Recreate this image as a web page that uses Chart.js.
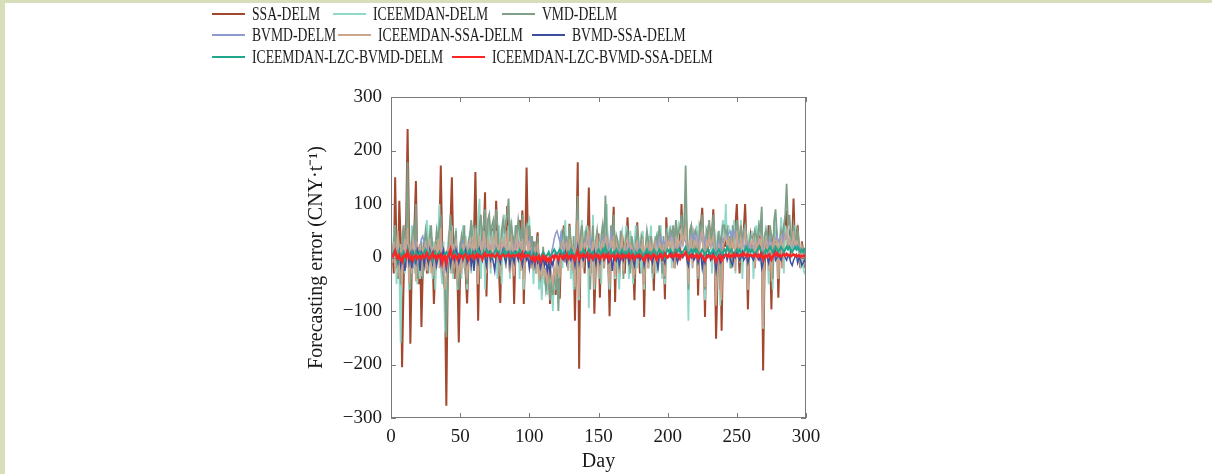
<!DOCTYPE html>
<html>
<head>
<meta charset="utf-8">
<script src="https://cdn.jsdelivr.net/npm/chart.js@4.4.0/dist/chart.umd.min.js"></script>
<style>
  html, body { margin: 0; padding: 0; background: #d6dfb9; overflow: hidden; }
  #frame { position: absolute; left: 5px; top: 3px; right: 0; bottom: 0; background: #fff; }
  #chart { position: absolute; left: 0; top: 0; }
  .leg { position: absolute; height: 20px; white-space: nowrap; font-family: "Liberation Serif", "Times New Roman", serif; font-size: 19.5px; color: #1a1a1a; }
  .leg i { position: absolute; left: 0; top: 10px; width: 33px; height: 2px; }
  .leg span { position: absolute; left: 40px; top: 0; line-height: 22px; transform: scaleX(0.7); transform-origin: left center; }
</style>
</head>
<body>
<div id="frame"></div>
<canvas id="chart" width="1212" height="474"></canvas>
<div id="legend"></div>
<script>
// forecasting error per day, CNY/t
var seriesNames = ["SSA-DELM", "ICEEMDAN-DELM", "VMD-DELM", "BVMD-DELM", "ICEEMDAN-SSA-DELM",
  "BVMD-SSA-DELM", "ICEEMDAN-LZC-BVMD-DELM", "ICEEMDAN-LZC-BVMD-SSA-DELM"];
var xTicks = [0, 50, 100, 150, 200, 250, 300];
var yTicks = [-300, -200, -100, 0, 100, 200, 300];

var ssaDelm = [
  20,-30,150,10,-40,106,30,-205,-60,40, 70,240,50,-161,-20,30,60,143,-10,-50,
  25,-130,-20,35,10,-30,20,-10,40,15, -87,-25,30,-5,45,172,20,-45,-60,-277,
  -40,30,60,150,10,-40,20,-30,-159,-20, 20,45,10,-30,-86,-10,35,20,60,40,
  160,30,-118,20,50,10,45,122,-73,40, 60,20,35,55,15,106,40,-20,-85,30,
  50,70,25,96,10,-30,20,40,-87,15, 60,30,70,40,88,-87,20,168,30,45,
  10,-20,30,-10,20,47,-30,-45,-57,10, -40,-20,-60,-30,-87,-45,-60,-20,-70,-30,
  -10,-77,20,40,60,10,30,-20,63,15, -30,20,-118,30,178,-208,20,40,10,-30,
  50,20,131,-30,10,40,-105,-20,30,45, -75,20,40,-20,30,60,10,-110,20,40,
  95,-83,30,20,-40,10,45,20,-30,30, 75,10,-20,30,-10,-80,20,66,10,-30,
  20,40,-111,10,30,-20,40,15,20,-62, 30,10,-20,40,20,-10,30,-78,75,20,
  40,10,50,30,-20,60,20,40,10,100, 30,50,88,20,-40,30,60,10,40,20,
  50,-71,30,60,93,20,-111,40,10,60, 20,40,90,10,-152,-40,20,30,-137,10,
  40,20,60,10,30,-20,40,20,60,100, 20,-30,40,10,50,100,20,-97,10,40,
  20,45,-20,30,10,40,20,50,-211,-30, 40,20,60,10,-97,30,50,20,40,-75,
  10,30,-20,40,60,88,20,40,10,30, 110,20,40,60,10,-20,30,10,-10,5
];
var iceemdanDelm = [
  -10,40,60,-50,30,-20,-160,20,50,-30, 30,100,-60,-40,60,20,-30,80,-50,10,
  -40,20,-30,10,40,70,-20,60,20,-40, 30,-60,10,40,100,-20,-50,30,-140,-60,
  20,50,-30,60,-40,20,55,-60,-10,30, -40,60,-20,40,-60,20,50,-30,60,10,
  40,-20,70,110,-40,30,50,-60,40,20, 70,-30,50,20,60,10,-40,60,30,-50,
  40,80,-20,30,60,-40,70,20,-30,50, 20,60,-40,50,20,-60,40,30,60,70,
  -20,40,-50,20,-30,30,-60,-20,-80,10, -50,-30,-70,-20,-60,-40,-100,-30,-60,10,
  -40,20,50,-20,40,70,-10,30,50,-40, 20,-60,10,60,40,-80,30,70,-20,50,
  20,60,-95,40,-30,80,-60,20,50,-40, 30,-50,60,20,40,100,-30,-60,40,20,
  60,-40,30,-20,-60,40,50,-30,20,60, 30,-40,50,20,-50,30,60,-20,40,10,
  -30,50,-60,20,40,-20,30,60,-40,20, 40,-30,50,20,60,-40,30,-50,40,50,
  20,60,-20,40,30,70,10,60,50,40, 20,70,100,30,-118,40,60,-20,50,30,
  60,-40,50,30,70,20,-80,40,60,20, 50,-30,60,20,-60,40,30,-90,50,70,
  30,100,20,60,-20,50,30,70,-30,60, 40,20,70,-40,30,60,20,-60,40,30,
  50,-40,20,60,30,70,40,85,-133,20, 60,30,-50,40,20,-60,70,30,50,-40,
  20,75,40,-30,60,30,50,20,40,10, 30,60,20,40,10,-10,20,-20,-30,-30
];
var vmdDelm = [
  10,30,60,-20,40,20,-50,30,60,-10, 40,178,-30,-60,30,50,20,100,-40,20,
  -20,30,-40,20,50,30,-30,40,60,10, -40,20,50,30,60,80,-20,-40,-60,-149,
  -30,40,80,20,-30,30,50,-40,-60,20, 40,20,60,-30,-50,30,40,70,30,20,
  60,40,-50,60,80,30,60,90,-20,70, 80,40,60,70,30,90,60,20,-30,50,
  70,50,60,80,110,30,60,40,-20,60, 40,70,50,30,80,-30,50,60,40,60,
  20,40,-20,30,-30,40,-20,-40,-30,20, -30,-60,-40,-20,-80,-50,-70,-30,-50,-20,
  -100,-30,30,40,50,20,40,-10,60,30, -20,40,-60,50,115,-40,40,60,20,30,
  50,30,40,-60,20,60,-40,30,50,20, -40,40,60,30,116,40,-20,-50,60,30,
  80,-30,40,30,-20,50,30,-40,20,40, 50,20,-30,40,20,-40,30,50,20,10,
  40,30,-50,20,50,30,10,40,-30,20, 30,40,20,60,30,-30,40,-40,50,40,
  30,50,40,60,20,70,40,50,60,80, 40,60,172,40,-60,50,60,20,40,50,
  40,-40,60,50,80,30,-60,50,40,70, 40,30,80,40,-80,30,50,-60,40,60,
  60,40,50,20,40,-20,60,30,50,70, 30,40,60,20,50,60,40,-40,30,40,
  40,30,50,40,30,60,50,95,-60,40, 50,40,20,60,40,-40,70,90,40,-30,
  30,50,40,60,80,138,60,80,40,30, 60,40,30,50,20,10,20,10,-10,-20
];
var bvmdDelm = [
  10,20,-10,15,30,-20,10,-30,20,10, 25,10,-15,20,5,-20,15,30,-10,10,
  20,35,40,25,10,-10,20,15,-15,10, 5,-20,15,25,10,-10,20,-25,-10,-30,
  10,20,15,-10,5,20,30,10,-20,5, 15,30,20,10,-10,20,25,30,15,10,
  20,15,-10,25,30,20,10,30,5,20, 25,15,30,20,10,25,15,-10,20,30,
  25,10,20,30,15,5,20,25,10,30, 20,30,15,25,10,-10,20,30,25,35,
  20,10,-10,5,-20,10,-15,-25,-30,-10, -20,-30,-15,-25,-10,10,20,35,45,50,
  40,30,45,20,10,25,15,-10,20,10, 5,15,-10,20,30,-15,20,30,15,25,
  30,40,20,35,10,25,15,20,30,10, 15,20,35,25,40,30,15,20,45,30,
  25,10,20,15,5,20,10,-5,15,20, 10,25,15,20,5,15,20,10,25,15,
  20,10,-10,15,20,10,25,15,20,10, 25,30,20,35,40,25,30,20,35,25,
  30,40,25,35,20,30,15,25,20,30, 25,35,30,20,10,30,40,35,45,30,
  40,25,35,45,30,40,20,35,25,30, 20,30,25,15,10,20,30,15,25,35,
  30,40,35,45,50,40,50,35,45,30, 25,30,20,35,25,15,30,20,25,15,
  20,25,15,30,20,25,35,30,10,20, 25,30,20,35,25,20,30,35,40,30,
  35,40,30,45,35,40,30,35,25,20, 30,20,25,15,20,10,15,5,10,0
];
var iceemdanSsaDelm = [
  -10,30,-25,20,50,-35,25,-55,10,35, -20,55,-50,25,-30,35,20,-45,30,-10,
  25,-35,20,-20,30,-25,10,35,-30,20, -35,25,-10,35,-20,55,-25,10,-60,-35,
  20,-10,50,-30,25,-20,35,-40,-25,10, -30,25,-20,35,-40,20,30,-25,40,-10,
  55,-20,-50,35,25,-10,50,30,-30,35, 25,-20,40,10,30,50,-10,25,-35,30,
  20,40,-20,50,25,-30,35,20,-35,25, 40,10,30,-25,35,-40,25,55,10,30,
  -20,10,-25,20,-30,25,-35,-20,-40,10, -35,-25,-50,-10,-40,-30,-50,-20,-35,10,
  -30,-35,20,30,25,-10,30,-25,35,10, -25,20,-55,30,70,-75,20,35,-20,25,
  20,40,50,-35,10,30,-50,20,35,-25, -35,25,30,-20,40,35,-25,-50,30,20,
  40,-35,25,10,-30,20,35,-25,20,30, 35,-10,25,20,-35,-30,25,30,-10,20,
  10,35,-50,20,25,-20,30,10,25,-30, 25,10,-25,30,20,-10,25,-35,35,20,
  30,10,35,25,-20,40,20,30,25,50, 25,40,55,10,-50,30,35,-20,30,25,
  35,-35,25,40,50,20,-55,35,20,40, 20,30,40,10,-90,-20,25,-50,-80,20,
  30,40,25,35,-10,30,20,35,-25,50, 25,-10,35,20,30,50,20,-60,10,30,
  25,35,-20,30,10,35,25,40,-130,20, 35,25,-25,30,-45,25,35,20,30,-40,
  20,35,-20,30,40,50,25,35,20,25, 50,20,30,25,10,-5,20,0,-10,-5
];
var bvmdSsaDelm = [
  5,10,15,0,-10,10,-15,5,10,-25, 0,15,-10,5,-20,10,0,-10,15,5,
  -25,10,5,-15,10,0,-10,15,5,-10, 10,0,-15,5,10,-10,5,15,-5,-20,
  5,10,-15,0,10,-5,15,5,-10,0, 10,-5,5,15,-10,0,10,-15,5,-25,
  10,0,-10,15,5,-5,10,0,-15,5, 10,-5,5,-10,-25,5,10,0,-10,5,
  15,0,-10,5,10,-15,5,0,-10,10, 5,-5,10,0,-15,5,10,-5,0,-20,
  5,-10,0,-15,5,-10,-5,-20,-10,0, -15,-5,-25,-10,-30,-5,-15,0,10,5,
  -10,5,10,0,-5,10,-10,5,0,-5, 10,0,-15,5,20,-10,5,0,-5,10,
  0,5,-20,10,0,-5,10,-10,5,0, -10,5,10,-5,0,10,-10,-5,5,-25,
  0,10,-5,5,-15,0,10,-5,5,0, 5,-10,0,10,-5,-15,5,0,10,-5,
  0,5,-15,0,10,-5,5,0,-10,5, 0,-5,-20,5,10,-5,0,-10,5,0,
  5,10,0,-5,10,5,-10,0,5,10, 0,5,10,-5,-15,5,0,10,-5,0,
  5,-10,0,5,-20,0,-10,5,0,10, -5,0,10,-5,-25,0,5,-10,-5,5,
  0,10,-5,5,0,-10,-15,5,0,10, 5,-5,0,10,-5,0,5,-10,0,5,
  0,-5,5,10,0,-5,5,-20,-10,0, 5,0,-10,5,-5,0,10,-5,0,5,
  0,-5,5,10,0,-5,5,0,-10,-15, -5,0,5,-10,0,-5,-15,-10,-5,-10
];
var lzcBvmdDelm = [
  5,10,15,5,-5,10,0,5,10,-5, 5,15,5,0,10,5,-5,10,5,0,
  10,5,0,10,15,5,0,10,5,-5, 5,10,0,5,10,5,-5,0,5,10,
  5,10,15,5,0,10,5,0,5,10, 15,5,10,0,5,10,15,5,0,10,
  5,10,15,10,5,0,10,5,15,10, 5,10,0,5,10,15,5,10,0,5,
  10,15,5,10,5,0,10,5,10,5, 10,5,15,10,5,0,5,10,5,10,
  5,0,10,5,0,5,-5,0,5,10, 5,0,5,10,0,5,10,15,10,5,
  10,15,10,5,10,5,0,10,5,15, 10,5,0,10,15,5,10,5,15,10,
  5,10,15,10,5,10,0,5,10,15, 10,5,15,10,20,10,5,10,15,5,
  10,5,15,10,5,10,15,5,10,5, 10,15,5,10,5,0,10,5,10,15,
  10,5,0,10,15,5,10,5,10,15, 10,5,10,15,10,5,10,0,10,15,
  10,15,10,5,10,15,10,15,10,5, 10,15,20,10,5,10,15,10,15,10,
  15,10,5,10,15,10,5,10,15,10, 5,10,15,10,5,10,15,10,5,10,
  15,10,20,15,10,15,10,5,10,15, 10,15,10,5,10,15,20,10,15,10,
  15,10,5,10,15,20,15,10,5,10, 15,10,15,20,15,10,15,20,15,10,
  15,20,15,10,15,20,15,20,15,10, 15,20,15,20,15,10,15,10,15,10
];
var lzcBvmdSsaDelm = [
  0,5,12,3,-2,4,-3,-8,2,5, 0,10,2,-3,3,-5,2,4,-2,1,
  3,-2,4,0,2,8,1,-3,2,8, 0,3,-2,4,1,5,-10,2,3,-10,
  2,5,15,3,-2,4,1,-3,5,2, 3,-2,4,6,1,-4,3,2,5,-2,
  3,6,0,4,2,-3,5,8,2,4, 5,2,6,3,1,4,7,2,-2,3,
  5,3,2,4,6,1,3,5,2,4, 3,6,2,-3,8,1,4,2,5,3,
  0,-4,2,-6,1,-3,2,-8,-2,3, -4,1,-6,-2,-8,0,3,-2,4,2,
  -3,5,2,-2,4,1,6,-3,2,4, 0,3,-4,5,12,-2,4,1,6,2,
  4,8,-3,3,5,-2,3,6,1,4, -3,2,5,-2,4,1,6,-4,3,2,
  5,-3,2,6,1,3,-2,5,2,4, 1,6,-2,3,5,-3,2,4,1,5,
  2,-2,-6,3,1,5,2,-3,4,6, 2,-4,3,1,5,-2,3,7,2,0,
  4,2,6,1,3,8,2,5,-2,4, 3,6,10,2,-4,3,5,1,4,2,
  5,-2,3,6,2,-3,-6,1,4,2, 3,-2,4,1,-8,-3,2,4,-5,1,
  3,5,2,6,1,4,2,7,3,5, 2,4,6,3,8,4,2,6,3,5,
  4,2,6,3,1,5,2,7,-3,2, 4,1,5,3,-4,2,6,4,8,3,
  5,2,4,6,3,7,4,5,2,4, 6,3,5,2,4,1,3,2,4,2
];

var seriesValues = [ssaDelm, iceemdanDelm, vmdDelm, bvmdDelm, iceemdanSsaDelm,
  bvmdSsaDelm, lzcBvmdDelm, lzcBvmdSsaDelm];
var seriesColors = ["#a3472f", "#90d8c8", "#7f9f89", "#8c9bcf", "#cca58d", "#3c4f9e", "#22a68c", "#ff2424"];
var seriesWidths = [2, 1.8, 1.8, 1.5, 1.5, 1.5, 2, 2.4];

var serif = '"Liberation Serif", "Times New Roman", serif';

var datasets = seriesValues.map(function(vals, i) {
  return {
    label: seriesNames[i],
    data: vals.map(function(v, d) { return {x: d + 1, y: v}; }),
    borderColor: seriesColors[i],
    backgroundColor: seriesColors[i],
    borderWidth: seriesWidths[i],
    pointRadius: 0,
    tension: 0,
    fill: false,
    // later series sit on top
    order: seriesValues.length - i
  };
});

// box around the plot with inward ticks on all four sides
var boxTicks = {
  id: 'boxTicks',
  afterDraw: function(chart) {
    var ctx = chart.ctx, a = chart.chartArea, x = chart.scales.x, y = chart.scales.y;
    ctx.save();
    ctx.strokeStyle = '#7a7a7a';
    ctx.lineWidth = 1;
    ctx.strokeRect(a.left + 0.5, a.top + 0.5, a.right - a.left - 1, a.bottom - a.top - 1);
    ctx.beginPath();
    x.ticks.forEach(function(t) {
      var px = Math.round(x.getPixelForValue(t.value)) + 0.5;
      ctx.moveTo(px, a.bottom); ctx.lineTo(px, a.bottom - 5);
      ctx.moveTo(px, a.top); ctx.lineTo(px, a.top + 5);
    });
    y.ticks.forEach(function(t) {
      var py = Math.round(y.getPixelForValue(t.value)) + 0.5;
      ctx.moveTo(a.left, py); ctx.lineTo(a.left + 5, py);
      ctx.moveTo(a.right, py); ctx.lineTo(a.right - 5, py);
    });
    ctx.stroke();
    ctx.restore();
  }
};

function fmt(v) { return v < 0 ? '\u2212' + Math.abs(v) : String(v); }

new Chart(document.getElementById('chart'), {
  type: 'line',
  data: { datasets: datasets },
  options: {
    responsive: false,
    animation: false,
    events: [],
    layout: { padding: { left: 305, right: 406, top: 97, bottom: 0 } },
    plugins: { legend: { display: false }, tooltip: { enabled: false } },
    scales: {
      x: {
        type: 'linear', min: 0, max: 300,
        afterBuildTicks: function(s) { s.ticks = xTicks.map(function(v) { return {value: v}; }); },
        afterFit: function(s) { s.height = 56; },
        grid: { display: false, drawTicks: false },
        border: { display: false },
        ticks: { padding: 8, color: '#1a1a1a', font: { family: serif, size: 19 }, maxRotation: 0, callback: fmt },
        title: { display: true, text: 'Day', color: '#1a1a1a', font: { family: serif, size: 20 }, padding: 0 }
      },
      y: {
        min: -300, max: 300,
        afterBuildTicks: function(s) { s.ticks = yTicks.map(function(v) { return {value: v}; }); },
        afterFit: function(s) { s.width = 86; },
        grid: { display: false, drawTicks: false },
        border: { display: false },
        ticks: { padding: 9, color: '#1a1a1a', font: { family: serif, size: 19 }, callback: fmt },
        title: { display: true, text: 'Forecasting error (CNY\u00b7t\u207b\u00b9)', color: '#1a1a1a', font: { family: serif, size: 20 }, padding: 0 }
      }
    }
  },
  plugins: [boxTicks]
});

// legend rows: [series index, left x, row top y]
var legendSlots = [[0, 212, 3], [1, 333, 3], [2, 502, 3],
  [3, 212, 24], [4, 338, 24], [5, 532, 24],
  [6, 212, 46], [7, 452, 46]];
var legend = document.getElementById('legend');
legendSlots.forEach(function(s) {
  var el = document.createElement('div');
  el.className = 'leg';
  el.style.left = s[1] + 'px';
  el.style.top = s[2] + 'px';
  var line = document.createElement('i');
  line.style.background = seriesColors[s[0]];
  var txt = document.createElement('span');
  txt.textContent = seriesNames[s[0]];
  el.appendChild(line);
  el.appendChild(txt);
  legend.appendChild(el);
});
</script>
</body>
</html>
